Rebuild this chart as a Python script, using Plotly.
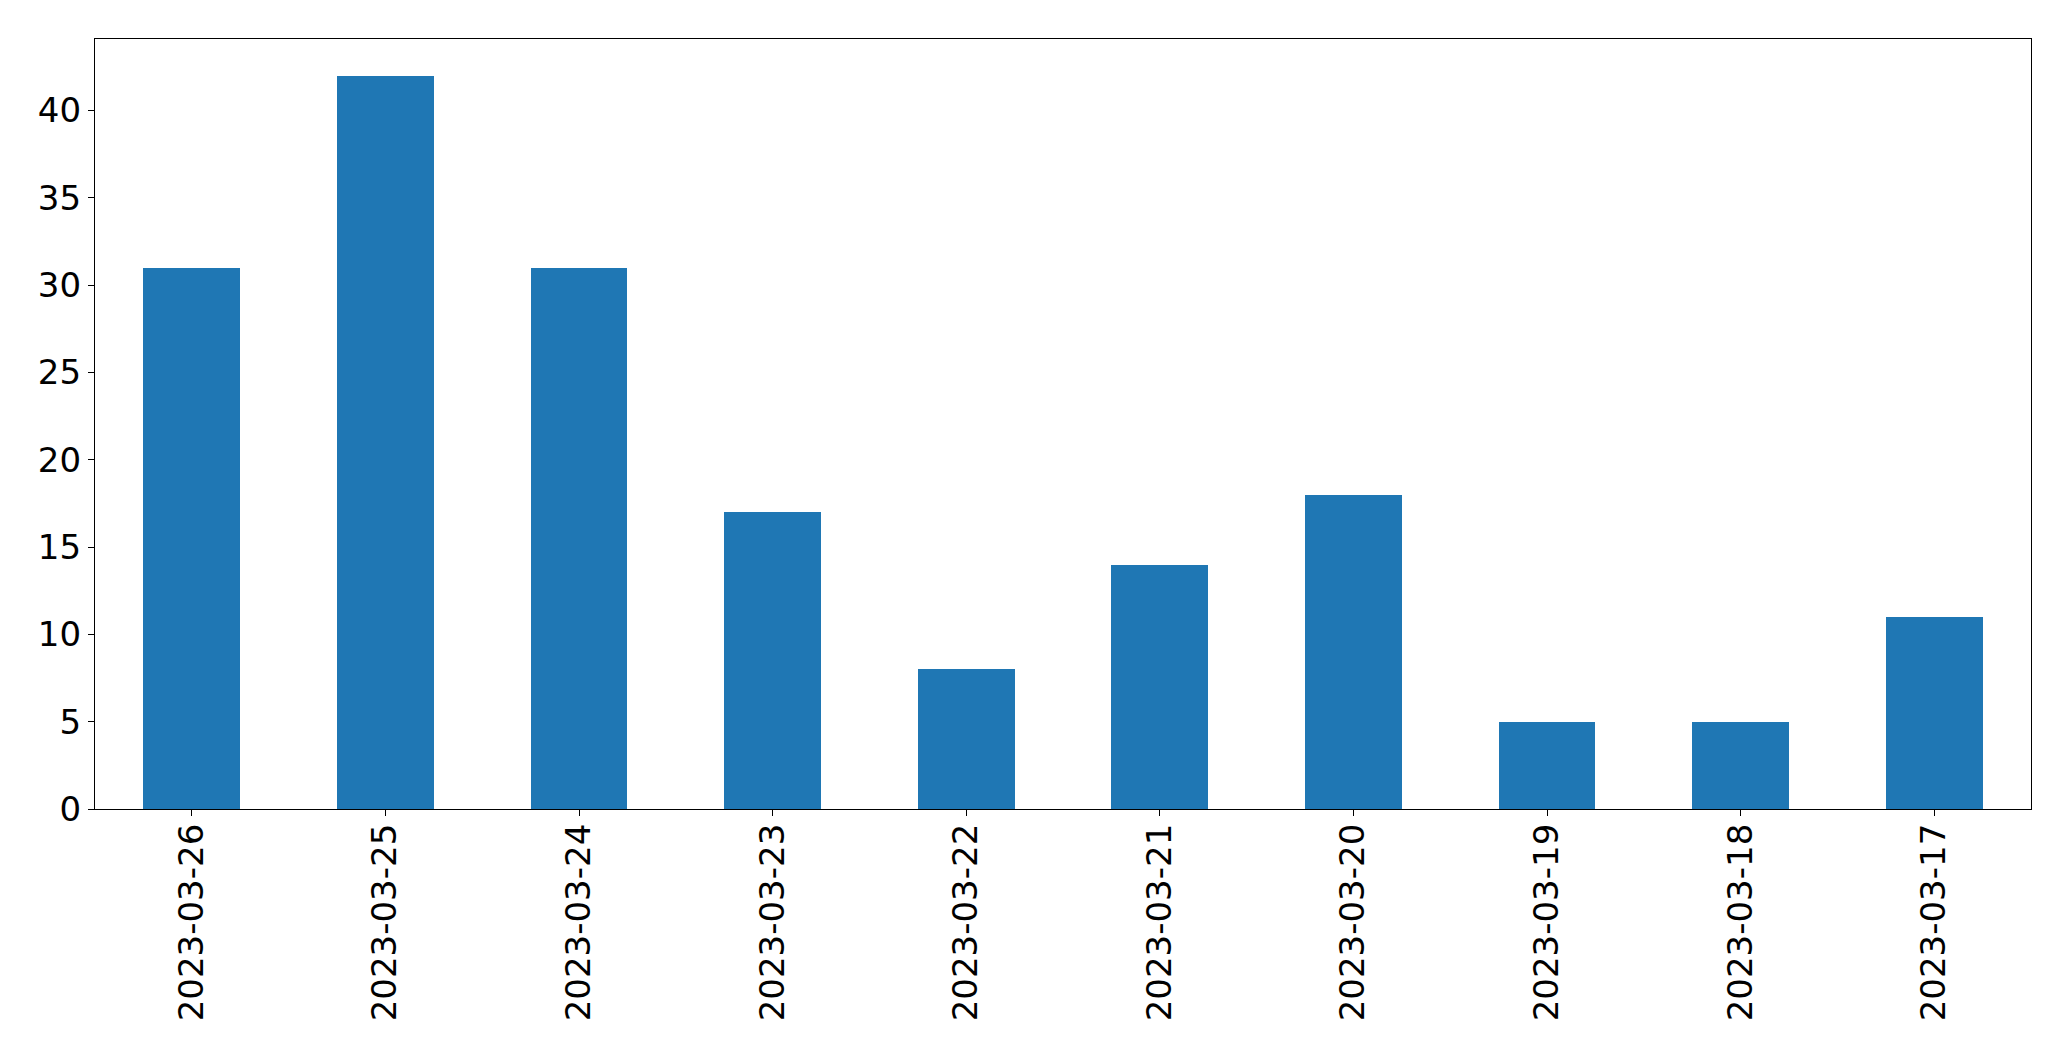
import plotly.graph_objects as go

dates = ["2023-03-26", "2023-03-25", "2023-03-24", "2023-03-23", "2023-03-22",
         "2023-03-21", "2023-03-20", "2023-03-19", "2023-03-18", "2023-03-17"]
counts = [31, 42, 31, 17, 8, 14, 18, 5, 5, 11]
y_ticks = [0, 5, 10, 15, 20, 25, 30, 35, 40]

fig = go.Figure(go.Bar(x=dates, y=counts, width=0.5, marker=dict(color="#1f77b4", line=dict(width=0))))

fig.update_layout(
    width=2055, height=1045,
    margin=dict(l=87, r=32, t=31, b=244, autoexpand=False),
    plot_bgcolor="white", paper_bgcolor="white",
    font=dict(family="DejaVu Sans", size=34, color="black"),
    showlegend=False,
    bargap=0,
)
fig.update_xaxes(
    type="category", range=[-0.5, 9.5], tickangle=-90, automargin=False,
    showline=True, mirror=True, linecolor="black", linewidth=1.3,
    ticks="outside", ticklen=6, tickwidth=1.3, tickcolor="black",
    showgrid=False, zeroline=False, ticklabelstandoff=-6,
)
fig.update_yaxes(
    range=[0, 44.1], tickvals=y_ticks, automargin=False,
    showline=True, mirror=True, linecolor="black", linewidth=1.3,
    ticks="outside", ticklen=6, tickwidth=1.3, tickcolor="black",
    showgrid=False, zeroline=False, ticklabelstandoff=0,
)

fig.write_html("out.html")
